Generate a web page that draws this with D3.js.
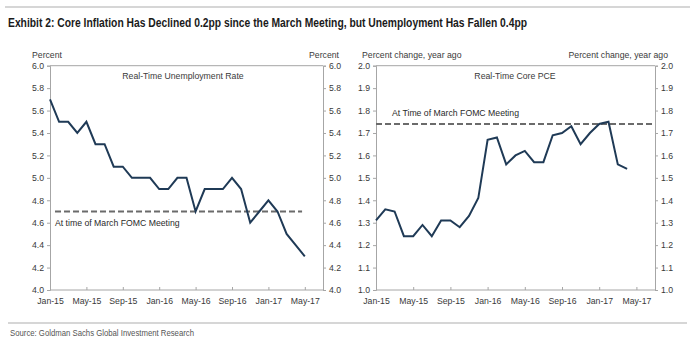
<!DOCTYPE html>
<html>
<head>
<meta charset="utf-8">
<script src="https://cdn.jsdelivr.net/npm/d3@7/dist/d3.min.js"></script>
<style>
  body { margin: 0; background: #fff; }
  text { font-family: "Liberation Sans", Arial, sans-serif; }
</style>
</head>
<body>
<svg id="chart" width="693" height="342"></svg>
<script>
// Monthly observations, first value = Jan-15
const unemploymentRate = [5.7, 5.5, 5.5, 5.4, 5.5, 5.3, 5.3, 5.1, 5.1, 5.0, 5.0, 5.0,
                          4.9, 4.9, 5.0, 5.0, 4.7, 4.9, 4.9, 4.9, 5.0, 4.9, 4.6, 4.7,
                          4.8, 4.7, 4.5, 4.4, 4.3];
const corePCE = [1.31, 1.36, 1.35, 1.24, 1.24, 1.29, 1.24, 1.31, 1.31, 1.28, 1.33, 1.41,
                 1.67, 1.68, 1.56, 1.60, 1.62, 1.57, 1.57, 1.69, 1.70, 1.73, 1.65, 1.70,
                 1.74, 1.75, 1.56, 1.54];
// Levels at the time of the March FOMC meeting
const fomcUnemployment = 4.7;
const fomcCorePCE = 1.74;

const tickMonths = [0, 4, 8, 12, 16, 20, 24, 28];
const tickLabels = ["Jan-15", "May-15", "Sep-15", "Jan-16", "May-16", "Sep-16", "Jan-17", "May-17"];
const unemploymentTicks = [4.0, 4.2, 4.4, 4.6, 4.8, 5.0, 5.2, 5.4, 5.6, 5.8, 6.0];
const pceTicks = [1.0, 1.1, 1.2, 1.3, 1.4, 1.5, 1.6, 1.7, 1.8, 1.9, 2.0];

const svg = d3.select("#chart");
const axisColor = "#a6a6a6";
const textColor = "#3a3a3a";
const lineColor = "#1f3a56";
const fs = "8.7px";

// Header rule and title
svg.append("line").attr("x1", 5).attr("x2", 690).attr("y1", 7).attr("y2", 7)
  .attr("stroke", "#c8c8c8").attr("stroke-width", 1.5);
svg.append("text").attr("x", 8).attr("y", 27)
  .attr("font-family", "'Liberation Sans Narrow', 'Arial Narrow', 'Liberation Sans', sans-serif")
  .attr("font-weight", "bold").attr("font-size", "13px").attr("fill", "#1a1a1a")
  .attr("textLength", 519).attr("lengthAdjust", "spacingAndGlyphs")
  .text("Exhibit 2: Core Inflation Has Declined 0.2pp since the March Meeting, but Unemployment Has Fallen 0.4pp");

// Footer rule and source
svg.append("line").attr("x1", 8).attr("x2", 687).attr("y1", 323).attr("y2", 323)
  .attr("stroke", "#c8c8c8").attr("stroke-width", 1.5);
svg.append("text").attr("x", 10).attr("y", 336)
  .attr("font-family", "'Liberation Sans Narrow', 'Arial Narrow', 'Liberation Sans', sans-serif")
  .attr("font-size", "9.5px").attr("fill", "#555")
  .attr("textLength", 184).attr("lengthAdjust", "spacingAndGlyphs")
  .text("Source: Goldman Sachs Global Investment Research");

function panel(cfg) {
  const x = d3.scaleLinear().domain([0, 30]).range([cfg.left, cfg.right]);
  const y = d3.scaleLinear().domain(cfg.yDomain).range([cfg.bottom, cfg.top]);
  const g = svg.append("g");

  // frame top edge
  g.append("line").attr("x1", cfg.left).attr("x2", cfg.right)
    .attr("y1", cfg.top).attr("y2", cfg.top).attr("stroke", axisColor);

  const yl = g.append("g").attr("transform", `translate(${cfg.left},0)`)
    .call(d3.axisLeft(y).tickValues(cfg.yTicks).tickFormat(d3.format(".1f"))
      .tickSize(3).tickPadding(3));
  const yr = g.append("g").attr("transform", `translate(${cfg.right},0)`)
    .call(d3.axisRight(y).tickValues(cfg.yTicks).tickFormat(d3.format(".1f"))
      .tickSize(3).tickPadding(3));
  const xa = g.append("g").attr("transform", `translate(0,${cfg.bottom})`)
    .call(d3.axisBottom(x).tickValues(tickMonths)
      .tickFormat((d, i) => tickLabels[i]).tickSizeInner(-3).tickSizeOuter(0).tickPadding(8));

  [yl, yr, xa].forEach(a => {
    a.selectAll("path, line").attr("stroke", axisColor);
    a.selectAll("text").attr("fill", textColor).attr("font-size", fs)
      .attr("font-family", "'Liberation Sans', Arial, sans-serif");
  });
  xa.select(".domain").attr("d", `M${cfg.left},0H${cfg.right}`);

  // unit labels
  g.append("text").attr("x", cfg.unitLeftX).attr("y", 58).attr("fill", textColor)
    .attr("font-size", fs).text(cfg.unit);
  g.append("text").attr("x", cfg.unitRightX).attr("y", 58).attr("fill", textColor)
    .attr("font-size", fs).attr("text-anchor", "end").text(cfg.unit);

  // panel title
  g.append("text").attr("x", (cfg.left + cfg.right) / 2 + cfg.titleDx).attr("y", 79)
    .attr("text-anchor", "middle").attr("fill", textColor).attr("font-size", fs)
    .text(cfg.title);

  // reference level
  g.append("line").attr("x1", x(cfg.refFrom)).attr("x2", x(cfg.refTo))
    .attr("y1", y(cfg.ref)).attr("y2", y(cfg.ref))
    .attr("stroke", "#6b6b6b").attr("stroke-width", 2).attr("stroke-dasharray", "6,3");
  g.append("text").attr("x", x(cfg.refFrom) + cfg.refLabelDx).attr("y", y(cfg.ref) + cfg.refLabelDy)
    .attr("fill", "#2a2a2a").attr("font-size", fs).text(cfg.refLabel);

  // series
  g.append("path").datum(cfg.values)
    .attr("fill", "none").attr("stroke", lineColor).attr("stroke-width", 2)
    .attr("stroke-linejoin", "miter")
    .attr("d", d3.line().x((d, i) => x(i)).y(d => y(d)));
}

panel({
  left: 50, right: 323, top: 65.7, bottom: 290,
  yDomain: [4, 6], yTicks: unemploymentTicks, values: unemploymentRate,
  unit: "Percent", unitLeftX: 32, unitRightX: 339,
  title: "Real-Time Unemployment Rate", titleDx: -3.5,
  ref: fomcUnemployment, refFrom: 0.55, refTo: 27.7,
  refLabel: "At time of March FOMC Meeting", refLabelDx: 0, refLabelDy: 15
});

panel({
  left: 376, right: 655, top: 65.7, bottom: 290,
  yDomain: [1, 2], yTicks: pceTicks, values: corePCE,
  unit: "Percent change, year ago", unitLeftX: 362, unitRightX: 668,
  title: "Real-Time Core PCE", titleDx: -0.5,
  ref: fomcCorePCE, refFrom: 0, refTo: 30,
  refLabel: "At Time of March FOMC Meeting", refLabelDx: 16, refLabelDy: -8
});
</script>
</body>
</html>
